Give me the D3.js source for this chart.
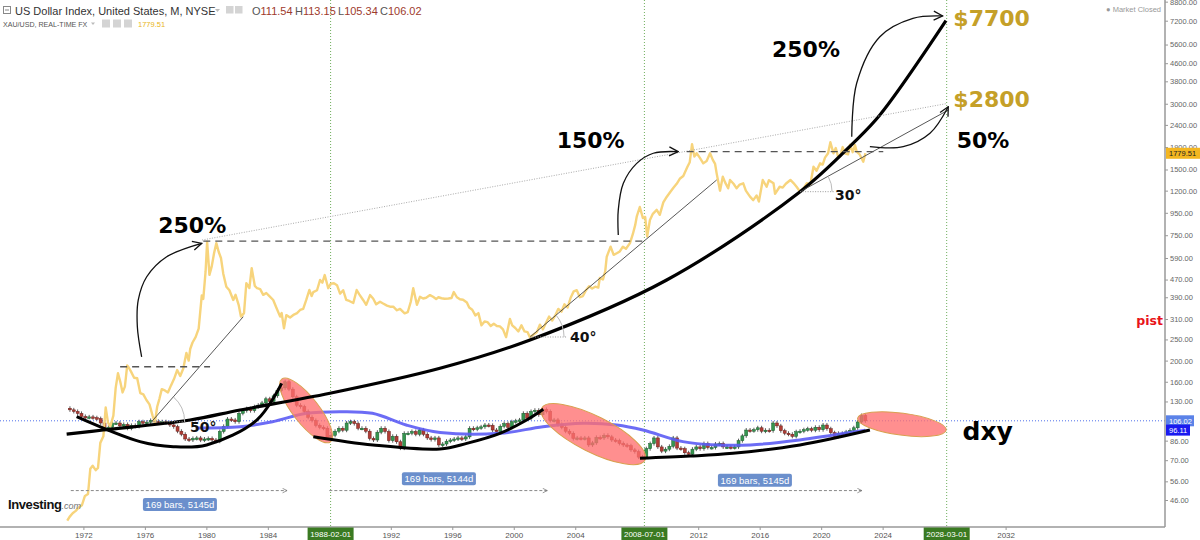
<!DOCTYPE html>
<html lang="en">
<head>
<meta charset="UTF-8">
<title>US Dollar Index vs XAU/USD</title>
<script src="https://cdn.jsdelivr.net/npm/d3@7/dist/d3.min.js"></script>
<style>
  body { margin: 0; background: #fff; }
  svg { display: block; }
</style>
</head>
<body>
<script>
// ---------- data (x = decimal year, y = price, shared log axis) ----------
const yearTicks = [1972, 1976, 1980, 1984, 1992, 1996, 2000, 2004, 2012, 2016, 2020, 2024, 2032];
const dateMarks = [[1988.083, '1988-02-01'], [2008.5, '2008-07-01'], [2028.167, '2028-03-01']];
const priceTicks = [46, 56, 70, 86, 130, 160, 200, 250, 310, 390, 470, 590, 750, 950, 1200, 1500, 1900, 2400, 3000, 3800, 4600, 5600, 7200, 8800];

const dxyLastBar = { O: 111.54, H: 113.15, L: 105.34, C: 106.02 };
const goldLast = 1779.51;
const maLast = 96.11;

// XAU/USD
const goldSeries = [
  [1970.95, 37], [1971.1, 38.5], [1971.3, 40], [1971.5, 41], [1971.7, 42.5], [1971.9, 43.5],
  [1972.1, 48], [1972.3, 49], [1972.45, 64], [1972.6, 66], [1972.8, 63], [1972.95, 64.5],
  [1973.1, 84], [1973.3, 90], [1973.45, 122], [1973.6, 104], [1973.75, 100], [1973.95, 112],
  [1974.1, 150], [1974.25, 175], [1974.4, 160], [1974.55, 143], [1974.7, 152], [1974.85, 190], [1974.95, 186],
  [1975.1, 178], [1975.3, 167], [1975.5, 166], [1975.7, 142], [1975.9, 140],
  [1976.1, 132], [1976.3, 126], [1976.5, 112], [1976.65, 104], [1976.8, 123], [1976.95, 134],
  [1977.1, 148], [1977.3, 146], [1977.5, 143], [1977.7, 154], [1977.9, 165],
  [1978.1, 181], [1978.3, 170], [1978.5, 184], [1978.7, 217], [1978.85, 200], [1978.95, 226],
  [1979.1, 242], [1979.3, 256], [1979.5, 280], [1979.7, 397], [1979.8, 383], [1979.95, 512],
  [1980.05, 700], [1980.2, 494], [1980.35, 540], [1980.5, 620], [1980.65, 690], [1980.8, 630], [1980.95, 590],
  [1981.1, 500], [1981.3, 436], [1981.5, 420], [1981.75, 379], [1981.9, 400],
  [1982.1, 360], [1982.25, 318], [1982.45, 330], [1982.6, 452], [1982.8, 430], [1982.95, 530],
  [1983.15, 440], [1983.3, 429], [1983.5, 425], [1983.7, 400], [1983.9, 408],
  [1984.1, 395], [1984.35, 379], [1984.55, 350], [1984.8, 318], [1984.9, 330],
  [1985.05, 281], [1985.2, 323], [1985.45, 315], [1985.7, 325], [1985.9, 330],
  [1986.1, 341], [1986.3, 345], [1986.5, 379], [1986.7, 421], [1986.85, 395], [1986.96, 412],
  [1987.2, 420], [1987.4, 468], [1987.55, 455], [1987.7, 493], [1987.93, 429],
  [1988.1, 450], [1988.3, 452], [1988.5, 443], [1988.7, 405], [1988.9, 420],
  [1989.1, 379], [1989.3, 375], [1989.56, 367], [1989.78, 421], [1989.95, 402],
  [1990.2, 379], [1990.4, 360], [1990.65, 399], [1990.85, 385],
  [1991.05, 362], [1991.3, 372], [1991.5, 365], [1991.75, 357], [1991.95, 353],
  [1992.16, 353], [1992.4, 340], [1992.6, 345], [1992.9, 329],
  [1993.1, 333], [1993.3, 372], [1993.46, 429], [1993.7, 360], [1993.9, 392],
  [1994.1, 385], [1994.3, 388], [1994.55, 399], [1994.75, 392], [1994.95, 383],
  [1995.1, 390], [1995.3, 386], [1995.5, 384], [1995.75, 385], [1995.95, 387],
  [1996.1, 412], [1996.3, 390], [1996.5, 382], [1996.7, 380], [1996.95, 369],
  [1997.1, 350], [1997.3, 342], [1997.5, 322], [1997.7, 330], [1997.9, 290],
  [1998.1, 302], [1998.3, 300], [1998.5, 288], [1998.7, 295], [1998.9, 288],
  [1999.1, 287], [1999.3, 278], [1999.5, 256], [1999.75, 310], [1999.9, 290],
  [2000.1, 282], [2000.3, 272], [2000.5, 290], [2000.7, 272], [2000.9, 270],
  [2001.05, 256], [2001.25, 262], [2001.5, 270], [2001.7, 292], [2001.9, 278],
  [2002.1, 298], [2002.3, 318], [2002.5, 305], [2002.7, 322], [2002.9, 345],
  [2003.1, 335], [2003.3, 362], [2003.5, 350], [2003.7, 388], [2003.9, 415],
  [2004.1, 420], [2004.3, 390], [2004.5, 395], [2004.7, 420], [2004.9, 438],
  [2005.1, 428], [2005.3, 436], [2005.5, 432], [2005.6, 478], [2005.8, 470], [2005.95, 513],
  [2006.05, 598], [2006.3, 665], [2006.5, 610], [2006.7, 620], [2006.9, 632],
  [2007.1, 665], [2007.3, 650], [2007.56, 690], [2007.75, 760], [2007.9, 834],
  [2008.0, 912], [2008.2, 1010], [2008.4, 900], [2008.55, 910], [2008.68, 740], [2008.86, 880],
  [2009.05, 940], [2009.3, 980], [2009.5, 930], [2009.73, 1060], [2009.9, 1110],
  [2010.17, 1180], [2010.4, 1240], [2010.6, 1290], [2010.8, 1360], [2011.03, 1400],
  [2011.3, 1545], [2011.45, 1620], [2011.6, 1960], [2011.75, 1720], [2011.9, 1780],
  [2012.1, 1700], [2012.33, 1600], [2012.55, 1640], [2012.77, 1780], [2012.95, 1660],
  [2013.1, 1590], [2013.2, 1440], [2013.42, 1200], [2013.6, 1390], [2013.75, 1310], [2013.95, 1230],
  [2014.07, 1343], [2014.3, 1290], [2014.5, 1230], [2014.7, 1280], [2014.93, 1297],
  [2015.1, 1200], [2015.37, 1126], [2015.58, 1086], [2015.8, 1140], [2015.95, 1070],
  [2016.2, 1343], [2016.45, 1250], [2016.6, 1340], [2016.9, 1297], [2017.0, 1160],
  [2017.3, 1250], [2017.5, 1240], [2017.7, 1290], [2018.0, 1343], [2018.2, 1300],
  [2018.4, 1250], [2018.63, 1187], [2018.85, 1230], [2019.07, 1297], [2019.3, 1285],
  [2019.5, 1544], [2019.7, 1480], [2019.93, 1600], [2020.1, 1580], [2020.25, 1700],
  [2020.45, 1780], [2020.6, 2000], [2020.8, 1780], [2020.95, 1880], [2021.1, 1720],
  [2021.23, 1720], [2021.4, 1900], [2021.55, 1780], [2021.75, 1760], [2021.88, 1950],
  [2022.05, 1800], [2022.2, 1940], [2022.31, 1810], [2022.5, 1760], [2022.74, 1628], [2022.88, 1779.51]
];

// US Dollar Index, quarterly closes from 1971 Q1 (first value = opening level)
const dxyStart = 1971;
const dxyQuarterClose = [
  121,
  119, 117, 114.6, 111,
  110, 110.5, 109.5, 108.5,
  103.6, 96.3, 99, 103.6,
  103.6, 100.5, 102, 98,
  101, 100, 105, 104,
  104.5, 106.4, 105.5, 105,
  105, 104, 101.5, 99.6,
  95, 92, 87.5, 86.6,
  88, 88.5, 86.5, 87.5,
  88, 86.6, 85.5, 94.7,
  100, 108, 107, 105,
  114.7, 118, 120.5, 118,
  123, 125, 128, 133.7,
  130, 138, 146, 150,
  160, 148, 136.6, 125,
  123, 117, 110, 106.4,
  101, 99, 98, 88.5,
  91, 95, 98, 96,
  103.6, 105, 103, 98,
  98, 95, 88, 86.6,
  94, 98, 94.7, 86,
  90, 85, 79.5, 92.9,
  93, 94.7, 92, 96.3,
  92, 88.5, 87, 88.5,
  82.2, 83, 85.5, 86.6,
  87.5, 88.5, 87.5, 89.5,
  98, 97, 98.5, 99.5,
  101.4, 101, 96.2, 94.5,
  100, 103, 99, 105,
  106, 107, 114.7, 109,
  117, 118.5, 113, 119.5,
  117, 106.4, 107, 102,
  99, 95, 92.9, 88,
  88.5, 88, 88.5, 82.2,
  84, 89, 88.5, 91,
  89.5, 86.6, 86, 83.5,
  82.2, 81.5, 78, 76.6,
  72.3, 72.5, 79, 83.4,
  88.5, 80.5, 77, 78.6,
  81, 88.5, 79.5, 79,
  75.7, 74.5, 78.6, 80.5,
  79, 83.4, 80, 80,
  83, 83.4, 80.5, 80.5,
  80, 80.5, 86, 90.5,
  96.2, 95.5, 96.5, 98.5,
  95, 96, 95.5, 103.6,
  100.5, 95.5, 93, 92,
  90, 94.5, 95, 96.5,
  97.5, 96, 99, 96.5,
  101.4, 97.5, 93.5, 90,
  92.9, 92.5, 94.3, 95.9,
  98.5, 104.7, 112, 106.02
];

// long moving average of the dollar index (blue)
const dxyMA = [
  [1979.3, 98.3], [1982.2, 99.6], [1984.3, 105], [1986.5, 114.7], [1988.7, 116.7], [1990.8, 114.7],
  [1993.0, 101.4], [1995.2, 93.7], [1999.1, 92.9], [2001.9, 99.6], [2004.5, 103.3], [2006.7, 101.4],
  [2008.4, 96.2], [2011.0, 85.1], [2013.2, 82.2], [2015.4, 82.2], [2018.6, 86.6], [2020.8, 91.3], [2022.88, 96.11]
];

// hand drawn annotations, in (year, price)
const bigCurve = [[1970.91, 92.2], [1973.29, 96.2], [1978.94, 106.9], [1982.19, 118.8], [1988.04, 141.7], [1995.2, 184.4],
  [2001.06, 248.6], [2009.95, 467.8], [2018.63, 1187], [2022.07, 1977], [2023.82, 2664], [2028.12, 7200]];
const bowls = [
  [[1971.56, 110.7], [1975.68, 85.1], [1977.85, 80.7], [1980.02, 82.2], [1983.28, 106.9], [1984.9, 157.4]],
  [[1986.96, 89.7], [1990.84, 82.2], [1995.2, 78.8], [1996.94, 83.6], [1999.1, 92.9], [2000.84, 106.9], [2001.92, 119.7]],
  [[2008.21, 71.4], [2011.47, 73.1], [2014.26, 75.3], [2018.62, 82.2], [2023.17, 96.2]]
];
const supportLines = [[[1976.44, 105], [1982.4, 317.7]], [[2001.06, 256.5], [2013.2, 1343]], [[2018.63, 1187], [2028.28, 2809]]];
const peakTrend = [[1979.72, 713], [2028.18, 3007]];
const levelLines = [[1974.39, 1980.24, 187.5], [1979.8, 2008.43, 705], [2011.25, 2024.04, 1810]];
const arrows = [
  [[1975.79, 208], [1975.51, 286], [1975.57, 379], [1976.12, 484], [1977.42, 598], [1979.7, 689]],
  [[2006.8, 752], [2006.8, 980], [2007.13, 1297], [2008.0, 1600], [2009.08, 1780], [2010.7, 1810]],
  [[2021.99, 2119], [2022.31, 3722], [2023.82, 6083], [2025.97, 7383], [2027.91, 7569]],
  [[2023.17, 1907], [2025.34, 1907], [2027.08, 2197], [2028.27, 2906]]
];
const angleMarks = [[0, 33, '50°', [1978.94, 94.5]], [1, 34, '40°', [2003.66, 244]], [2, 32, '30°', [2020.9, 1086]]];
const redEllipses = [[1986.49, 118.2, 39.7, 13, 52], [2005.18, 92.1, 57.8, 18, 26.6], [2025.25, 102.3, 44.7, 11, 7.6]];
const bigLabels = [['250%', 1976.87, 768], ['150%', 2002.79, 1876], ['250%', 2016.8, 4912], ['50%', 2028.82, 1876]];
const targetLabels = [['$7700', 2028.6, 6808], ['$2800', 2028.6, 2898]];
const rangeSpans = [[1971.18, 1985.25], [1988.0, 2002.18], [2008.47, 2022.65]];
const rangeLabels = ['169 bars, 5145d', '169 bars, 5144d', '169 bars, 5145d'];
const rangeLabelAt = [[1978.28, 43.9], [1995.13, 57.6], [2015.69, 56.6]];
const rangeLevel = 50.8;

// ---------- layout ----------
const width = 1200, height = 540;
const plotRight = 1165, plotBottom = 527;
const ui = '"Liberation Sans", Arial, sans-serif';
const bold = '"DejaVu Sans", Verdana, sans-serif';

const x = d3.scaleLinear().domain([1972, 2032]).range([83.4, 1005.6]);
const y = d3.scaleLog().domain([46, 7200]).range([500, 20.7]);

const svg = d3.select('body').append('svg')
  .attr('width', width).attr('height', height)
  .attr('font-family', ui);

const defs = svg.append('defs');
defs.append('clipPath').attr('id', 'plot')
  .append('rect').attr('x', 0).attr('y', 0).attr('width', plotRight).attr('height', plotBottom);
defs.append('marker').attr('id', 'head')
  .attr('viewBox', '0 0 12 12').attr('refX', 11).attr('refY', 6)
  .attr('markerWidth', 12).attr('markerHeight', 12).attr('markerUnits', 'userSpaceOnUse').attr('orient', 'auto')
  .append('path').attr('d', 'M2,1.5 L11,6 L2,10.5').attr('fill', 'none').attr('stroke', '#111').attr('stroke-width', 1.3);
defs.append('marker').attr('id', 'headGray')
  .attr('viewBox', '0 0 8 8').attr('refX', 7).attr('refY', 4)
  .attr('markerWidth', 6).attr('markerHeight', 6).attr('markerUnits', 'userSpaceOnUse').attr('orient', 'auto')
  .append('path').attr('d', 'M1,1 L7,4 L1,7').attr('fill', 'none').attr('stroke', '#777').attr('stroke-width', 1);

const plot = svg.append('g').attr('clip-path', 'url(#plot)');
const line = d3.line().x(d => x(d[0])).y(d => y(d[1]));
const smooth = d3.line().x(d => x(d[0])).y(d => y(d[1])).curve(d3.curveCatmullRom.alpha(0.5));

// session separators
plot.selectAll('.vsep').data(dateMarks).join('line')
  .attr('x1', d => x(d[0])).attr('x2', d => x(d[0]))
  .attr('y1', 0).attr('y2', plotBottom)
  .attr('stroke', '#6fae5c').attr('stroke-dasharray', '1,2');

// current DXY price line
plot.append('line')
  .attr('x1', 0).attr('x2', plotRight)
  .attr('y1', y(dxyLastBar.C)).attr('y2', y(dxyLastBar.C))
  .attr('stroke', '#4f70ea').attr('stroke-dasharray', '1,2');

// DXY candles
const candles = dxyQuarterClose.slice(1).map((c, i) => ({
  t: dxyStart + i * 0.25 + 0.125, o: dxyQuarterClose[i], c
}));
const cg = plot.append('g');
cg.selectAll('line').data(candles).join('line')
  .attr('x1', d => x(d.t)).attr('x2', d => x(d.t))
  .attr('y1', d => y(Math.max(d.o, d.c)) - 2)
  .attr('y2', d => y(Math.min(d.o, d.c)) + 2)
  .attr('stroke', '#333').attr('stroke-width', 0.8);
cg.selectAll('rect').data(candles).join('rect')
  .attr('x', d => x(d.t) - 1.5).attr('width', 3)
  .attr('y', d => y(Math.max(d.o, d.c)))
  .attr('height', d => Math.max(1.5, Math.abs(y(d.o) - y(d.c))))
  .attr('fill', d => d.c >= d.o ? '#35964f' : '#b03d35')
  .attr('stroke', d => d.c >= d.o ? '#1d5a2e' : '#6b1f1a').attr('stroke-width', 0.5);

// gold
plot.append('path').datum(goldSeries)
  .attr('d', line).attr('fill', 'none')
  .attr('stroke', '#f7d47c').attr('stroke-width', 2.4).attr('stroke-linejoin', 'round');

// moving average
plot.append('path').datum(dxyMA)
  .attr('d', smooth).attr('fill', 'none')
  .attr('stroke', '#5c5cf4').attr('stroke-width', 3).attr('opacity', 0.9);

// red ellipses
plot.selectAll('.ell').data(redEllipses).join('ellipse')
  .attr('transform', d => `translate(${x(d[0])},${y(d[1])}) rotate(${d[4]})`)
  .attr('rx', d => d[2]).attr('ry', d => d[3])
  .attr('fill', '#ff6f6f').attr('fill-opacity', 0.78)
  .attr('stroke', '#d9a050').attr('stroke-width', 1);

// thick black curves
plot.append('path').datum(bigCurve).attr('d', smooth)
  .attr('fill', 'none').attr('stroke', '#000').attr('stroke-width', 3.2);
plot.selectAll('.bowl').data(bowls).join('path').attr('d', smooth)
  .attr('fill', 'none').attr('stroke', '#000').attr('stroke-width', 3);

// thin trend lines
plot.selectAll('.sup').data(supportLines).join('path').attr('d', line)
  .attr('fill', 'none').attr('stroke', '#444').attr('stroke-width', 0.9);
plot.append('path').datum(peakTrend).attr('d', line)
  .attr('fill', 'none').attr('stroke', '#aaa').attr('stroke-width', 1).attr('stroke-dasharray', '1,1.5');

// level lines
plot.selectAll('.lvl').data(levelLines).join('line')
  .attr('x1', d => x(d[0])).attr('x2', d => x(d[1]))
  .attr('y1', d => y(d[2])).attr('y2', d => y(d[2]))
  .attr('stroke', '#555').attr('stroke-width', 1.4).attr('stroke-dasharray', '7,5');

// angle markers
angleMarks.forEach(([i, r, label, at]) => {
  const [a, b] = supportLines[i];
  const vx = x(a[0]), vy = y(a[1]);
  const th = Math.atan2(vy - y(b[1]), x(b[0]) - vx);
  plot.append('line').attr('x1', vx).attr('x2', vx + r + 2).attr('y1', vy).attr('y2', vy)
    .attr('stroke', '#999').attr('stroke-dasharray', '1,1.5');
  plot.append('path')
    .attr('d', `M${vx + r},${vy} A${r},${r} 0 0 0 ${vx + r * Math.cos(th)},${vy - r * Math.sin(th)}`)
    .attr('fill', 'none').attr('stroke', '#bbb').attr('stroke-width', 1);
  svg.append('text').attr('x', x(at[0])).attr('y', y(at[1]))
    .attr('font-family', bold).attr('font-weight', 'bold').attr('font-size', 14).attr('fill', '#111')
    .text(label);
});

// curved arrows
svg.selectAll('.arr').data(arrows).join('path').attr('d', smooth)
  .attr('fill', 'none').attr('stroke', '#111').attr('stroke-width', 1.3)
  .attr('marker-end', 'url(#head)');

// bar-range measures
svg.selectAll('.rng').data(rangeSpans).join('line')
  .attr('x1', d => x(d[0])).attr('x2', d => x(d[1]))
  .attr('y1', y(rangeLevel)).attr('y2', y(rangeLevel))
  .attr('stroke', '#888').attr('stroke-dasharray', '3,2').attr('marker-end', 'url(#headGray)');
const rl = svg.selectAll('.rlab').data(rangeLabels).join('g')
  .attr('transform', (d, i) => `translate(${x(rangeLabelAt[i][0])},${y(rangeLabelAt[i][1])})`);
rl.append('rect').attr('x', -37).attr('y', -6.5).attr('width', 74).attr('height', 13).attr('rx', 2)
  .attr('fill', '#6b8fcc');
rl.append('text').attr('text-anchor', 'middle').attr('y', 3.3)
  .attr('font-size', 9.5).attr('fill', '#fff').text(d => d);

// big labels
svg.selectAll('.big').data(bigLabels).join('text')
  .attr('x', d => x(d[1])).attr('y', d => y(d[2]))
  .attr('font-family', bold).attr('font-weight', 'bold').attr('font-size', 22).attr('fill', '#000')
  .text(d => d[0]);
svg.selectAll('.tgt').data(targetLabels).join('text')
  .attr('x', d => x(d[1])).attr('y', d => y(d[2]))
  .attr('font-family', bold).attr('font-weight', 'bold').attr('font-size', 22).attr('fill', '#c5a028')
  .text(d => d[0]);
svg.append('text').attr('x', x(2029.2)).attr('y', y(86.6))
  .attr('font-family', bold).attr('font-weight', 'bold').attr('font-size', 25).attr('fill', '#000')
  .text('dxy');
svg.append('text').attr('x', 1163).attr('y', 325).attr('text-anchor', 'end')
  .attr('font-family', bold).attr('font-weight', 'bold').attr('font-size', 12.5).attr('fill', '#e8141a')
  .text('pist');

// ---------- axes ----------
svg.append('line').attr('x1', 0).attr('x2', plotRight).attr('y1', plotBottom).attr('y2', plotBottom)
  .attr('stroke', '#999').attr('stroke-width', 1.5);
svg.append('line').attr('x1', plotRight).attr('x2', plotRight).attr('y1', 0).attr('y2', plotBottom)
  .attr('stroke', '#999').attr('stroke-width', 1.5);

const xAxisG = svg.append('g').attr('transform', `translate(0,${plotBottom})`)
  .call(d3.axisBottom(x).tickValues(yearTicks).tickFormat(d3.format('d')).tickSize(3).tickPadding(2));
xAxisG.attr('font-family', ui).attr('font-size', 8);
xAxisG.select('.domain').remove();
xAxisG.selectAll('.tick line').attr('stroke', '#999');
xAxisG.selectAll('.tick text').attr('fill', '#555');

const dm = svg.selectAll('.dm').data(dateMarks).join('g')
  .attr('transform', d => `translate(${x(d[0])},${plotBottom})`);
dm.append('rect').attr('x', -23).attr('y', 0.5).attr('width', 46).attr('height', 13).attr('fill', '#3a7a22');
dm.append('text').attr('text-anchor', 'middle').attr('y', 10)
  .attr('font-size', 8).attr('fill', '#fff').text(d => d[1]);

const yAxisG = svg.append('g').attr('transform', `translate(${plotRight},0)`)
  .call(d3.axisRight(y).tickValues(priceTicks).tickFormat(d3.format('.2f')).tickSize(3).tickPadding(2));
yAxisG.attr('font-family', ui).attr('font-size', 7.5);
yAxisG.select('.domain').remove();
yAxisG.selectAll('.tick line').attr('stroke', '#999');
yAxisG.selectAll('.tick text').attr('fill', '#666');

// price tags on the right axis
const tags = [[goldLast, '#f3b621', '#222', 34], [dxyLastBar.C, '#5b82e8', '#fff', 28], [maLast, '#1a1af0', '#fff', 24]];
const tg = svg.selectAll('.tag').data(tags).join('g')
  .attr('transform', d => `translate(${plotRight + 1},${y(d[0])})`);
tg.append('rect').attr('x', 0).attr('y', -5.5).attr('width', d => d[3]).attr('height', 11).attr('fill', d => d[1]);
tg.append('text').attr('x', 3).attr('y', 2.8).attr('font-size', 7.5).attr('fill', d => d[2])
  .text(d => d3.format('.2f')(d[0]));

// ---------- header / legend ----------
const hd = svg.append('g');
hd.append('rect').attr('x', 3.5).attr('y', 6.5).attr('width', 7).attr('height', 7)
  .attr('fill', 'none').attr('stroke', '#888');
hd.append('line').attr('x1', 5).attr('x2', 9).attr('y1', 10).attr('y2', 10).attr('stroke', '#888');
hd.append('text').attr('x', 15).attr('y', 14.5).attr('font-size', 11).attr('fill', '#333')
  .text('US Dollar Index, United States, M, NYSE');
hd.append('path').attr('d', 'M215,9 L220,9 L217.5,12 Z').attr('fill', '#bbb');
[226, 235].forEach(px => hd.append('rect').attr('x', px).attr('y', 6).attr('width', 7.5).attr('height', 7.5)
  .attr('fill', '#d4d4d4'));
const ohlc = [['O', dxyLastBar.O, 252], ['H', dxyLastBar.H, 295], ['L', dxyLastBar.L, 338], ['C', dxyLastBar.C, 380]];
ohlc.forEach(([k, v, px]) => {
  const t = hd.append('text').attr('x', px).attr('y', 14.5).attr('font-size', 11);
  t.append('tspan').attr('fill', '#555').text(k);
  t.append('tspan').attr('fill', '#9e3a2c').text(d3.format('.2f')(v));
});
hd.append('text').attr('x', 3).attr('y', 27).attr('font-size', 7.1).attr('fill', '#555')
  .text('XAU/USD, REAL-TIME FX');
hd.append('path').attr('d', 'M91,22.5 L95,22.5 L93,25 Z').attr('fill', '#bbb');
[102, 113, 124].forEach(px => hd.append('rect').attr('x', px).attr('y', 19.5).attr('width', 8).attr('height', 8)
  .attr('fill', '#d4d4d4'));
hd.append('text').attr('x', 138).attr('y', 27).attr('font-size', 7.5).attr('fill', '#e9b520')
  .text(d3.format('.2f')(goldLast));

svg.append('text').attr('x', 1161).attr('y', 12).attr('text-anchor', 'end')
  .attr('font-size', 7.5).attr('fill', '#999').text('● Market Closed');

// watermark
const wm = svg.append('text').attr('x', 8).attr('y', 509);
wm.append('tspan').attr('font-weight', 'bold').attr('font-size', 13).attr('fill', '#111')
  .attr('letter-spacing', -0.4).text('Investing');
wm.append('tspan').attr('font-size', 9).attr('fill', '#777').attr('font-style', 'italic').text('.com');
</script>
</body>
</html>
